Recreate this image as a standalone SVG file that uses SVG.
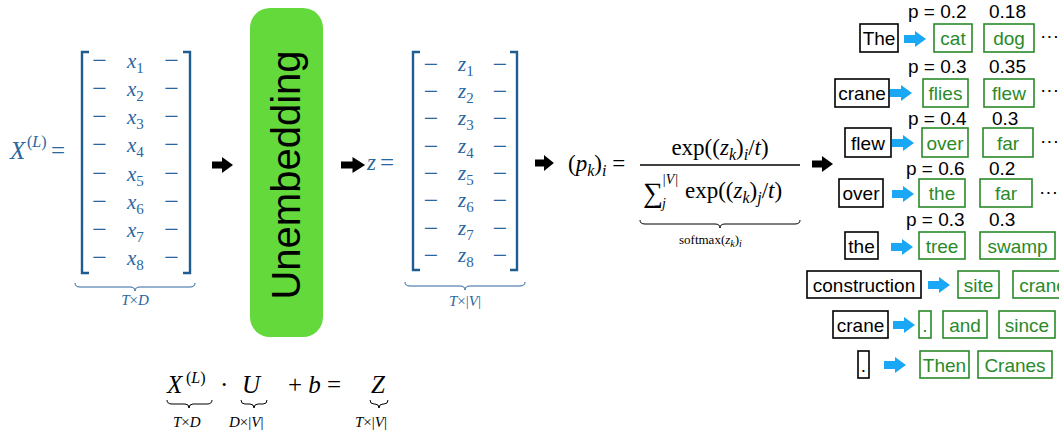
<svg xmlns="http://www.w3.org/2000/svg" xmlns:xlink="http://www.w3.org/1999/xlink" width="1059" height="437" viewBox="0 0 1059 437">
<style>
.mb{font-family:"Liberation Serif","Times New Roman",serif;fill:#2a66a0}
.mk{font-family:"Liberation Serif","Times New Roman",serif;fill:#000}
.it{font-style:italic}
.br{fill:none;stroke:#1f5c8f;stroke-width:2.4}
.brace{fill:none;stroke-width:1}
.tok{font-family:"Liberation Sans",Arial,sans-serif;font-size:19px;text-anchor:middle}
.bb{fill:#fff;stroke:#000;stroke-width:1.6}
.gb{fill:#fff;stroke:#2a8a2a;stroke-width:1.6}
.gt{fill:#2a8a2a}
.pl{font-family:"Liberation Sans",Arial,sans-serif;font-size:19px;fill:#000}
</style>
<defs>
<path id="ba" d="M0,-3.5 H10 V-8 L21,0 L10,8 V3.5 H0 Z" fill="#000"/>
<path id="la" d="M0,-4 H11 V-8 L22,0 L11,8 V4 H0 Z" fill="#1aa7f5"/>
</defs>
<rect width="1059" height="437" fill="#fff"/>

<g id="matrix-x">
<text class="mb" font-size="25" x="10" y="159"><tspan class="it">X</tspan></text>
<text class="mb" font-size="16" x="27" y="147">(<tspan class="it">L</tspan>)</text>
<text class="mb" font-size="25" x="51" y="159">=</text>
<path class="br" d="M89,52 H82 V273 H89"/>
<path class="br" d="M183,52 H190 V273 H183"/>
<g class="mb" font-size="26" text-anchor="middle">
<text x="99.5" y="69">−</text><text x="171.5" y="69">−</text>
<text x="99.5" y="97">−</text><text x="171.5" y="97">−</text>
<text x="99.5" y="125">−</text><text x="171.5" y="125">−</text>
<text x="99.5" y="153">−</text><text x="171.5" y="153">−</text>
<text x="99.5" y="182">−</text><text x="171.5" y="182">−</text>
<text x="99.5" y="210">−</text><text x="171.5" y="210">−</text>
<text x="99.5" y="238">−</text><text x="171.5" y="238">−</text>
<text x="99.5" y="266">−</text><text x="171.5" y="266">−</text>
</g>
<g class="mb" font-size="21">
<text x="127" y="68"><tspan class="it">x</tspan><tspan font-size="15" dy="5">1</tspan></text>
<text x="127" y="96"><tspan class="it">x</tspan><tspan font-size="15" dy="5">2</tspan></text>
<text x="127" y="124"><tspan class="it">x</tspan><tspan font-size="15" dy="5">3</tspan></text>
<text x="127" y="152"><tspan class="it">x</tspan><tspan font-size="15" dy="5">4</tspan></text>
<text x="127" y="181"><tspan class="it">x</tspan><tspan font-size="15" dy="5">5</tspan></text>
<text x="127" y="209"><tspan class="it">x</tspan><tspan font-size="15" dy="5">6</tspan></text>
<text x="127" y="237"><tspan class="it">x</tspan><tspan font-size="15" dy="5">7</tspan></text>
<text x="127" y="265"><tspan class="it">x</tspan><tspan font-size="15" dy="5">8</tspan></text>
</g>
<path class="brace" stroke="#2a66a0" d="M75,283 q0,4 5,4 H130 q5,0 5,4 q0,-4 5,-4 H190 q5,0 5,-4"/>
<text class="mb" font-size="15" x="135" y="305" text-anchor="middle"><tspan class="it">T</tspan>×<tspan class="it">D</tspan></text>
</g>

<g id="unembedding">
<rect x="250" y="8" width="73" height="329" rx="20" fill="#63d93c"/>
<text transform="translate(300,175) rotate(-90)" x="0" y="0" font-family="'Liberation Sans',Arial,sans-serif" font-size="40" text-anchor="middle" fill="#000">Unembedding</text>
</g>

<g id="matrix-z">
<text class="mb it" font-size="23" x="367" y="170">z</text>
<text class="mb" font-size="25" x="380" y="171">=</text>
<path class="br" d="M420,52 H413 V270 H420"/>
<path class="br" d="M510,52 H517 V270 H510"/>
<g class="mb" font-size="26" text-anchor="middle">
<text x="431" y="73">−</text><text x="500" y="73">−</text>
<text x="431" y="100">−</text><text x="500" y="100">−</text>
<text x="431" y="127">−</text><text x="500" y="127">−</text>
<text x="431" y="155">−</text><text x="500" y="155">−</text>
<text x="431" y="182">−</text><text x="500" y="182">−</text>
<text x="431" y="209">−</text><text x="500" y="209">−</text>
<text x="431" y="237">−</text><text x="500" y="237">−</text>
<text x="431" y="264">−</text><text x="500" y="264">−</text>
</g>
<g class="mb" font-size="21">
<text x="458" y="71"><tspan class="it">z</tspan><tspan font-size="15" dy="5">1</tspan></text>
<text x="458" y="98"><tspan class="it">z</tspan><tspan font-size="15" dy="5">2</tspan></text>
<text x="458" y="125"><tspan class="it">z</tspan><tspan font-size="15" dy="5">3</tspan></text>
<text x="458" y="153"><tspan class="it">z</tspan><tspan font-size="15" dy="5">4</tspan></text>
<text x="458" y="180"><tspan class="it">z</tspan><tspan font-size="15" dy="5">5</tspan></text>
<text x="458" y="207"><tspan class="it">z</tspan><tspan font-size="15" dy="5">6</tspan></text>
<text x="458" y="235"><tspan class="it">z</tspan><tspan font-size="15" dy="5">7</tspan></text>
<text x="458" y="262"><tspan class="it">z</tspan><tspan font-size="15" dy="5">8</tspan></text>
</g>
<path class="brace" stroke="#2a66a0" d="M405,282 q0,4 5,4 H460 q5,0 5,4 q0,-4 5,-4 H520 q5,0 5,-4"/>
<text class="mb" font-size="15" x="465" y="306" text-anchor="middle"><tspan class="it">T</tspan>×|<tspan class="it">V</tspan>|</text>
</g>

<g id="softmax">
<text class="mk" font-size="23" x="568" y="171">(<tspan class="it">p</tspan><tspan class="it" font-size="16" dy="5">k</tspan><tspan dy="-5">)</tspan><tspan class="it" font-size="16" dy="5">i</tspan><tspan dy="-5"> =</tspan></text>
<text class="mk" font-size="23" x="720" y="155" text-anchor="middle">exp((<tspan class="it">z</tspan><tspan class="it" font-size="16" dy="5">k</tspan><tspan dy="-5">)</tspan><tspan class="it" font-size="16" dy="5">i</tspan><tspan dy="-5">/</tspan><tspan class="it">t</tspan>)</text>
<line x1="640" y1="165" x2="800" y2="165" stroke="#000" stroke-width="1.3"/>
<text class="mk" font-size="28" x="643" y="202">∑</text>
<text class="mk it" font-size="14" x="662" y="184">|V|</text>
<text class="mk it" font-size="14" x="662" y="208">j</text>
<text class="mk" font-size="23" x="685" y="198">exp((<tspan class="it">z</tspan><tspan class="it" font-size="16" dy="5">k</tspan><tspan dy="-5">)</tspan><tspan class="it" font-size="16" dy="5">j</tspan><tspan dy="-5">/</tspan><tspan class="it">t</tspan>)</text>
<path class="brace" stroke="#000" d="M640,220 q0,4 5,4 H715 q5,0 5,4 q0,-4 5,-4 H795 q5,0 5,-4"/>
<text class="mk" font-size="13" x="679" y="244">softmax(<tspan class="it">z</tspan><tspan class="it" font-size="10" dy="3">k</tspan><tspan dy="-3">)</tspan><tspan class="it" font-size="10" dy="3">i</tspan></text>
</g>

<g id="equation">
<text class="mk it" font-size="25" x="167" y="393">X</text>
<text class="mk" font-size="16" x="186" y="383">(<tspan class="it">L</tspan>)</text>
<text class="mk" font-size="25" x="220" y="393">·</text>
<text class="mk it" font-size="25" x="242" y="393">U</text>
<text class="mk" font-size="25" x="288" y="393">+ <tspan class="it">b</tspan> =</text>
<text class="mk it" font-size="25" x="371" y="393">Z</text>
<path class="brace" stroke="#000" d="M167,400 q0,4 5,4 H185 q4,0 4,4 q0,-4 4,-4 H207 q5,0 5,-4"/>
<path class="brace" stroke="#000" d="M241,400 q0,4 4,4 H250 q4,0 4,4 q0,-4 4,-4 H263 q4,0 4,-4"/>
<path class="brace" stroke="#000" d="M370,400 q0,4 4,4 H375 q4,0 4,4 q0,-4 4,-4 H384 q4,0 4,-4"/>
<text class="mk" font-size="15" x="173" y="427"><tspan class="it">T</tspan>×<tspan class="it">D</tspan></text>
<text class="mk" font-size="15" x="229" y="427"><tspan class="it">D</tspan>×|<tspan class="it">V</tspan>|</text>
<text class="mk" font-size="15" x="355" y="427"><tspan class="it">T</tspan>×|<tspan class="it">V</tspan>|</text>
</g>

<g id="row1">
<text class="pl" x="908" y="18">p = 0.2</text><text class="pl" x="989" y="18">0.18</text>
<rect class="bb" x="860" y="24" width="38" height="28"/><text class="tok" x="879" y="45">The</text>
<rect class="gb" x="934" y="24" width="38" height="28"/><text class="tok gt" x="953" y="45">cat</text>
<rect class="gb" x="984" y="24" width="50" height="28"/><text class="tok gt" x="1009" y="45">dog</text>
<text class="pl" x="1040" y="42">···</text>
</g>
<g id="row2">
<text class="pl" x="908" y="73">p = 0.3</text><text class="pl" x="989" y="73">0.35</text>
<rect class="bb" x="835" y="79" width="54" height="28"/><text class="tok" x="862" y="100">crane</text>
<rect class="gb" x="923" y="79" width="45" height="28"/><text class="tok gt" x="945.5" y="100">flies</text>
<rect class="gb" x="984" y="79" width="50" height="28"/><text class="tok gt" x="1009" y="100">flew</text>
<text class="pl" x="1040" y="96">···</text>
</g>
<g id="row3">
<text class="pl" x="908" y="125">p = 0.4</text><text class="pl" x="992" y="125">0.3</text>
<rect class="bb" x="845" y="128" width="46" height="29"/><text class="tok" x="868" y="149.5">flew</text>
<rect class="gb" x="922" y="128" width="46" height="29"/><text class="tok gt" x="945" y="149.5">over</text>
<rect class="gb" x="983" y="128" width="50" height="29"/><text class="tok gt" x="1008" y="149.5">far</text>
<text class="pl" x="1040" y="147">···</text>
</g>
<g id="row4">
<text class="pl" x="906" y="175">p = 0.6</text><text class="pl" x="989" y="175">0.2</text>
<rect class="bb" x="839" y="179" width="44" height="28"/><text class="tok" x="861" y="200">over</text>
<rect class="gb" x="919" y="179" width="46" height="28"/><text class="tok gt" x="942" y="200">the</text>
<rect class="gb" x="980" y="179" width="52" height="28"/><text class="tok gt" x="1006" y="200">far</text>
<text class="pl" x="1039" y="198">···</text>
</g>
<g id="row5">
<text class="pl" x="906" y="226">p = 0.3</text><text class="pl" x="989" y="226">0.3</text>
<rect class="bb" x="845" y="232" width="33" height="27"/><text class="tok" x="861.5" y="252.5">the</text>
<rect class="gb" x="919" y="232" width="46" height="27"/><text class="tok gt" x="942" y="252.5">tree</text>
<rect class="gb" x="980" y="232" width="75" height="27"/><text class="tok gt" x="1017.5" y="252.5">swamp</text>
</g>
<g id="row6">
<rect class="bb" x="807" y="271" width="114" height="27"/><text class="tok" x="864" y="291.5">construction</text>
<rect class="gb" x="958" y="271" width="41" height="27"/><text class="tok gt" x="978.5" y="291.5">site</text>
<rect class="gb" x="1013" y="271" width="60" height="27"/><text class="tok gt" x="1043" y="291.5">crane</text>
</g>
<g id="row7">
<rect class="bb" x="833" y="311" width="55" height="27"/><text class="tok" x="860.5" y="331.5">crane</text>
<rect class="gb" x="919" y="311" width="12" height="27"/><text class="tok gt" x="925" y="331.5">.</text>
<rect class="gb" x="943" y="311" width="44" height="27"/><text class="tok gt" x="965" y="331.5">and</text>
<rect class="gb" x="999" y="311" width="56" height="27"/><text class="tok gt" x="1027" y="331.5">since</text>
</g>
<g id="row8">
<rect class="bb" x="858" y="351" width="11" height="27"/><text class="tok" x="863.5" y="371.5">.</text>
<rect class="gb" x="920" y="351" width="49" height="27"/><text class="tok gt" x="944.5" y="371.5">Then</text>
<rect class="gb" x="978" y="351" width="74" height="27"/><text class="tok gt" x="1015" y="371.5">Cranes</text>
</g>

<g id="connectors">
<use xlink:href="#ba" transform="translate(212,165)"/>
<use xlink:href="#ba" transform="translate(341,165) scale(1.15,1)"/>
<use xlink:href="#ba" transform="translate(535,163) scale(0.9,1)"/>
<use xlink:href="#ba" transform="translate(812,164)"/>
<use xlink:href="#la" transform="translate(904,39)"/>
<use xlink:href="#la" transform="translate(890,93)"/>
<use xlink:href="#la" transform="translate(892,143)"/>
<use xlink:href="#la" transform="translate(892,194)"/>
<use xlink:href="#la" transform="translate(891,247)"/>
<use xlink:href="#la" transform="translate(928,285)"/>
<use xlink:href="#la" transform="translate(893,325)"/>
<use xlink:href="#la" transform="translate(884,365)"/>
</g>
</svg>
